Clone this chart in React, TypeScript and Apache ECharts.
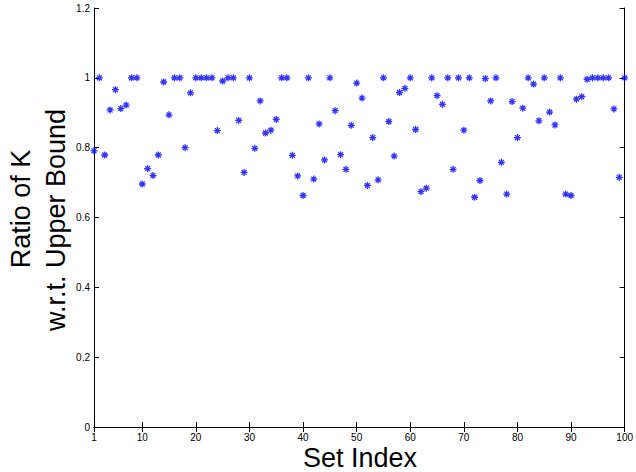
import React, { useEffect, useRef } from "react";
import * as echarts from "echarts";

const setIndex: number[] = Array.from({ length: 100 }, (_, i) => i + 1);
const ratioValues: number[] = [
  0.791, 1, 0.779, 0.908, 0.966, 0.912, 0.922, 1, 1, 0.696,
  0.740, 0.720, 0.779, 0.988, 0.894, 1, 1, 0.800, 0.957, 1,
  1, 1, 1, 0.849, 0.991, 1, 1, 0.878, 0.729, 1,
  0.798, 0.934, 0.842, 0.850, 0.881, 1, 1, 0.778, 0.719, 0.663,
  1, 0.710, 0.868, 0.765, 1, 0.906, 0.780, 0.738, 0.864, 0.985,
  0.942, 0.692, 0.829, 0.708, 1, 0.875, 0.776, 0.958, 0.970, 1,
  0.852, 0.674, 0.684, 1, 0.949, 0.924, 1, 0.738, 1, 0.850,
  1, 0.658, 0.706, 0.998, 0.934, 1, 0.758, 0.667, 0.932, 0.829,
  0.913, 1, 0.982, 0.877, 1, 0.902, 0.865, 1, 0.667, 0.663,
  0.939, 0.946, 0.996, 1, 1, 1, 1, 0.911, 0.715, 1,
];
const xTicks: number[] = [1, 10, 20, 30, 40, 50, 60, 70, 80, 90, 100];
const xTitle = "Set Index";
const yTitleLines: string[] = ["Ratio of K", "w.r.t. Upper Bound"];

const FONT = '"Liberation Sans", Arial, Helvetica, sans-serif';
const ASTERISK =
  "path://M0,-1L0,1M-1,0L1,0M-0.7,-0.7L0.7,0.7M-0.7,0.7L0.7,-0.7";

export default function App() {
  const ref = useRef<HTMLDivElement>(null);
  useEffect(() => {
    if (!ref.current) return;
    const chart = echarts.init(ref.current, null, { renderer: "svg" });
    const axisLine = { show: true, lineStyle: { color: "#000", width: 1 } };
    const tick = { show: true, inside: true, length: 5, lineStyle: { color: "#000", width: 1 } };
    chart.setOption({
      animation: false,
      backgroundColor: "#fff",
      grid: { left: 94, right: 10, top: 8, bottom: 45, containLabel: false },
      xAxis: [
        {
          type: "value",
          min: 1,
          max: 100,
          position: "bottom",
          axisLine,
          axisTick: { ...tick, customValues: xTicks },
          axisLabel: {
            customValues: xTicks,
            fontSize: 10,
            color: "#000",
            fontFamily: FONT,
            margin: 5,
            showMinLabel: true,
            showMaxLabel: true,
            hideOverlap: false,
          },
          splitLine: { show: false },
        },
        {
          type: "value",
          min: 1,
          max: 100,
          position: "top",
          axisLine,
          axisTick: { ...tick, customValues: xTicks },
          axisLabel: { show: false },
          splitLine: { show: false },
        },
      ],
      yAxis: [
        {
          type: "value",
          min: 0,
          max: 1.2,
          interval: 0.2,
          position: "left",
          axisLine,
          axisTick: tick,
          axisLabel: { fontSize: 10, color: "#000", fontFamily: FONT, margin: 4 },
          splitLine: { show: false },
        },
        {
          type: "value",
          min: 0,
          max: 1.2,
          interval: 0.2,
          position: "right",
          axisLine,
          axisTick: tick,
          axisLabel: { show: false },
          splitLine: { show: false },
        },
      ],
      series: [
        {
          type: "scatter",
          xAxisIndex: 0,
          yAxisIndex: 0,
          data: setIndex.map((x, i) => [x, ratioValues[i]]),
          symbol: ASTERISK,
          symbolSize: 7,
          itemStyle: { color: "transparent", borderColor: "#0000ff", borderWidth: 1.3 },
        },
      ],
      graphic: [
        {
          type: "text",
          x: 360,
          y: 458,
          style: { text: xTitle, font: `27px ${FONT}`, align: "center", verticalAlign: "middle", fill: "#000" },
        },
        {
          type: "text",
          x: 21,
          y: 209,
          rotation: Math.PI / 2,
          style: { text: yTitleLines[0], font: `27px ${FONT}`, align: "center", verticalAlign: "middle", fill: "#000" },
        },
        {
          type: "text",
          x: 56,
          y: 220,
          rotation: Math.PI / 2,
          style: { text: yTitleLines[1], font: `27px ${FONT}`, align: "center", verticalAlign: "middle", fill: "#000" },
        },
      ],
    });
    return () => chart.dispose();
  }, []);
  return (
    <div
      ref={ref}
      style={{ position: "fixed", left: 0, top: 0, width: 636, height: 472 }}
    />
  );
}
